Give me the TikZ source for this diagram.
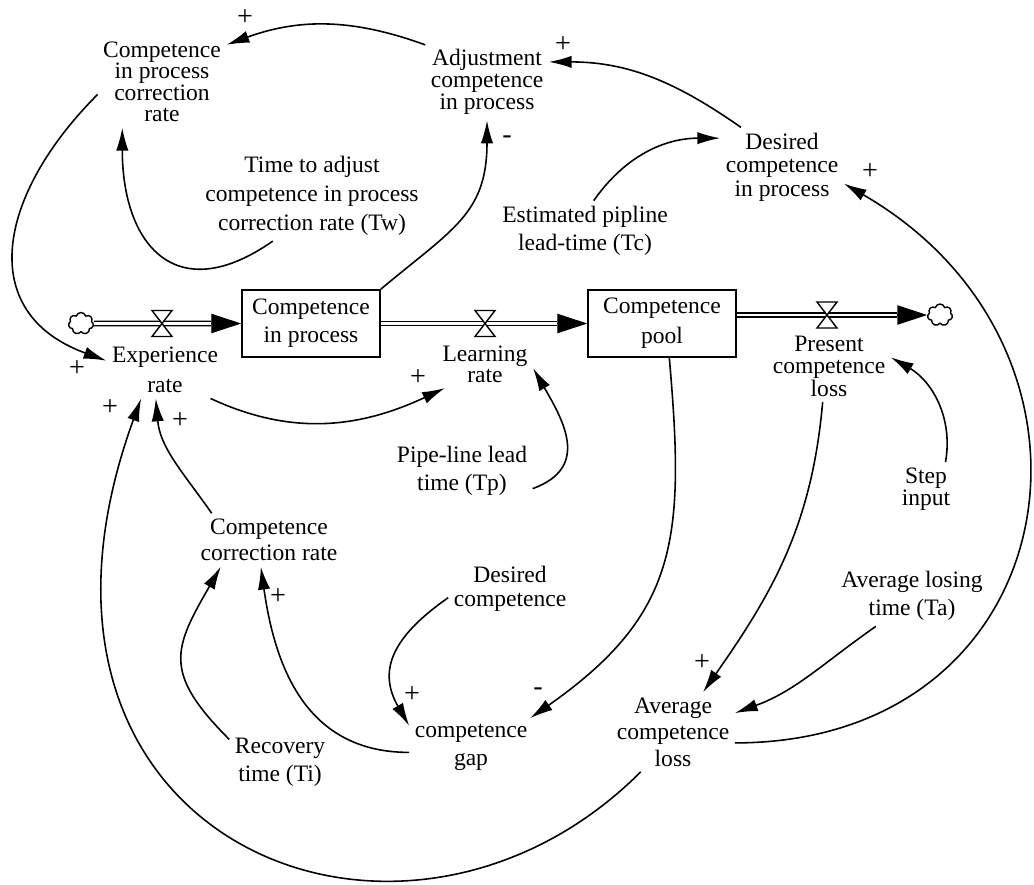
\documentclass[tikz,border=0pt]{standalone}
\usepackage{fontspec}
\setmainfont{Liberation Serif}
\usetikzlibrary{arrows.meta,calc,shapes.symbols}
\newcommand{\lbl}[1]{\fontsize{13.4}{#1}\selectfont\lineskiplimit=-\maxdimen}
\newcommand{\flowvalve}[1]{%
  \draw[line width=0.8pt,fill=white] ($(#1)+(-10,-13)$) -- ($(#1)+(10,-13)$)
    -- ($(#1)+(-10,13)$) -- ($(#1)+(10,13)$) -- cycle;
}
\tikzset{
  var/.style={align=center,inner sep=3pt,font=\lbl{16}},
  stock/.style={draw,line width=1pt,align=center,inner sep=0pt,font=\lbl{16}},
  sign/.style={inner sep=0pt,font=\fontsize{16}{16}\selectfont},
  link/.style={line width=0.9pt,-{Latex[length=13pt,width=7pt]}},
  pipe/.style={double,double distance=1.7pt,line width=0.8pt},
  pipetip/.style={line width=0.8pt,-{Triangle[length=17pt,width=11pt]}},
  sky/.style={cloud,draw,cloud puffs=7,aspect=1.1,line width=0.8pt,
    minimum width=0.5cm,minimum height=0.44cm,inner sep=0pt},
}

\begin{document}
\begin{tikzpicture}[x=0.02cm,y=-0.02cm]
  \useasboundingbox (0,0) rectangle (1034,885);

  % stocks and flows
  \node[stock,minimum width=2.76cm,minimum height=1.34cm] (stockA) at (311,323.5) {Competence\\in process};
  \node[stock,minimum width=2.96cm,minimum height=1.34cm,font=\lbl{17}] (stockB) at (662,323.5) {Competence\\pool};
  \node[sky] (cloudL) at (81,323.5) {};
  \node[sky] (cloudR) at (940,315) {};
  \coordinate (tipA) at ($(stockA.west)+(-30,0)$);
  \coordinate (tipB) at ($(stockB.west)+(-30,0)$);
  \coordinate (tipC) at ($(cloudR.west)+(-30,0)$);
  \draw[pipe] (cloudL.east) -- (tipA);
  \draw[pipetip] (tipA) -- (stockA.west);
  \draw[pipe] (stockA.east) -- (tipB);
  \draw[pipetip] (tipB) -- (stockB.west);
  \draw[pipe] (stockB.east |- tipC) -- (tipC);
  \draw[pipetip] (tipC) -- (cloudR.west);
  \coordinate (v1) at (162,323.5);
  \coordinate (v2) at (485,323.5);
  \coordinate (v3) at (827,315);
  \flowvalve{v1}
  \flowvalve{v2}
  \flowvalve{v3}

  % variables
  \node[var,font=\lbl{12.2}] (cipcr) at (162,82) {Competence\\in process\\correction\\rate};
  \node[var,font=\lbl{12.6}] (adj) at (487,82) {Adjustment\\competence\\in process};
  \node[var,font=\lbl{16.4}] (tw) at (312,196) {Time to adjust\\competence in process\\correction rate (Tw)};
  \node[var,font=\lbl{13.3}] (dcip) at (782,167) {Desired\\competence\\in process};
  \node[var] (tc) at (585,231) {Estimated pipline\\lead-time (Tc)};
  \node[var,font=\lbl{17}] (exp) at (165,370) {Experience\\rate};
  \node[var,font=\lbl{12}] (learn) at (485,364) {Learning\\rate};
  \node[var,font=\lbl{12.8}] (pres) at (829,366) {Present\\competence\\loss};
  \node[var] (tp) at (462,471) {Pipe-line lead\\time (Tp)};
  \node[var,font=\lbl{12.4}] (step) at (926,489) {Step\\input};
  \node[var,font=\lbl{15}] (ccr) at (269,540) {Competence\\correction rate};
  \node[var,font=\lbl{14}] (dc) at (510,589) {Desired\\competence};
  \node[var] (ta) at (912,596) {Average losing\\time (Ta)};
  \node[var,font=\lbl{15}] (acl) at (673,732) {Average\\competence\\loss};
  \node[var] (gap) at (471,747) {competence\\gap};
  \node[var] (ti) at (280,762) {Recovery\\time (Ti)};

  % polarities
  \node[sign] (s1) at (245,18) {+};
  \node[sign] (s2) at (563,45) {+};
  \node[sign] (s3) at (507,140) {-};
  \node[sign] (s4) at (870,172) {+};
  \node[sign] (s5) at (77,369) {+};
  \node[sign] (s6) at (110,408) {+};
  \node[sign] (s7) at (180,421) {+};
  \node[sign] (s8) at (418,378) {+};
  \node[sign] (s9) at (278,597) {+};
  \node[sign] (s10) at (412,695) {+};
  \node[sign] (s11) at (538,692) {-};
  \node[sign] (s12) at (702,663) {+};

  % causal links
  \draw[link] (adj.149) to[out=160,in=20] (cipcr.30);
  \draw[link] (cipcr.191) to[out=225,in=160,looseness=1.35] (exp.171);
  \draw[link] (tw.229) to[out=215,in=-90,looseness=1.6] (cipcr.229);
  \draw[link] (stockA.north east) to[out=40,in=-90,looseness=1.2] (adj.south);
  \draw[link] (dcip.136) to[out=145,in=0] (adj.18);
  \draw[link] (tc.74) to[out=55,in=180] (dcip.155);
  \draw[link] (acl.-10) to[out=0,in=-30,looseness=1.5] (dcip.-15);
  \draw[link] (exp.-32) to[out=-25,in=205] (learn.211);
  \draw[link] (tp.-14) to[out=20,in=-60,looseness=1.3] (learn.-5);
  \draw[link] (stockB.-78) to[out=-85,in=35,looseness=1.2] (gap.26);
  \draw[link] (pres.-100) to[out=-95,in=55] (acl.53);
  \draw[link] (step.54) to[out=80,in=-30] (pres.8);
  \draw[link] (ta.220) to[out=215,in=20] (acl.17);
  \draw[link] (dc.188) to[out=215,in=120,looseness=1.25] (gap.161);
  \draw[link] (gap.185) to[out=180,in=-82,looseness=1.1] (ccr.-107);
  \draw[link] (ti.156) to[out=135,in=-120,looseness=1.4] (ccr.209);
  \draw[link] (ccr.155) to[out=125,in=-85] (exp.-108);
  \draw[link] (acl.231) to[out=225,in=-110,out distance=6.8cm,in distance=9.4cm] (exp.230);
\end{tikzpicture}
\end{document}
